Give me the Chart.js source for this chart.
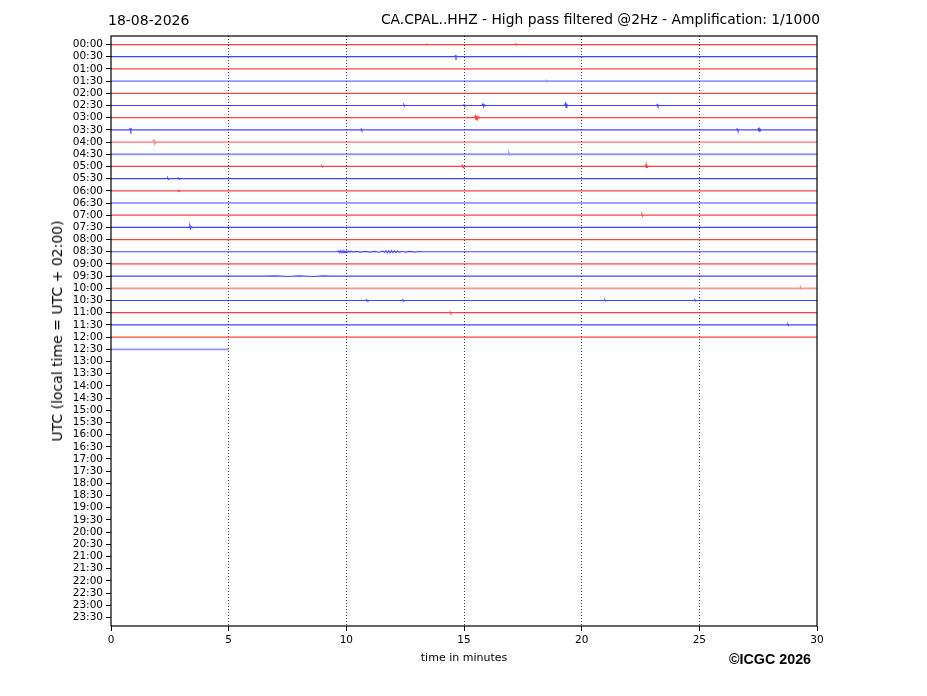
<!DOCTYPE html>
<html>
<head>
<meta charset="utf-8">
<script src="https://cdn.jsdelivr.net/npm/chart.js@4.4.1/dist/chart.umd.min.js"></script>
<style>
  html, body { margin: 0; padding: 0; background: #fff; }
  #wrap { position: relative; width: 927px; height: 696px; font-family: "DejaVu Sans", sans-serif; color: #000; }
  #wrap canvas { position: absolute; left: 0; top: 0; }
  .txt { position: absolute; white-space: nowrap; line-height: 1; }
</style>
</head>
<body>
<div id="wrap">
  <canvas id="heli" width="927" height="696"></canvas>
  <div class="txt" style="left:108px; top:13px; font-size:14px;">18-08-2026</div>
  <div class="txt" style="right:107px; top:13px; font-size:13.85px;">CA.CPAL..HHZ - High pass filtered @2Hz - Amplification: 1/1000</div>
  <div class="txt" style="left:57px; top:331px; font-size:14px; transform: translate(-50%, -50%) rotate(-90deg);">UTC (local time = UTC + 02:00)</div>
  <div class="txt" style="left:464px; top:652px; font-size:11px; transform: translateX(-50%);">time in minutes</div>
  <div class="txt" style="left:729px; top:652px; font-size:14.3px; font-weight:bold; font-family:'Liberation Sans', Arial, sans-serif;">©ICGC 2026</div>
</div>
<script>
// ── Data ─────────────────────────────────────────────────────
const rowLabels = [
  '00:00','00:30','01:00','01:30','02:00','02:30','03:00','03:30',
  '04:00','04:30','05:00','05:30','06:00','06:30','07:00','07:30',
  '08:00','08:30','09:00','09:30','10:00','10:30','11:00','11:30',
  '12:00','12:30','13:00','13:30','14:00','14:30','15:00','15:30',
  '16:00','16:30','17:00','17:30','18:00','18:30','19:00','19:30',
  '20:00','20:30','21:00','21:30','22:00','22:30','23:00','23:30'
];

const xTicks = [0, 5, 10, 15, 20, 25, 30];

// rows that hold a trace, and how far (minutes) the last one runs
const rowsRecorded = 26;
const lastRowEnd = 5.0;

// wiggles: [row, [[minute, offset in rows], ...]]
const rowEvents = [
  [0,  [[13.38, 0], [13.4, 0.04], [13.43, -0.03], [13.45, 0],
        [17.18, 0], [17.2, 0.04], [17.23, -0.03], [17.25, 0]]],
  [1,  [[14.6, 0], [14.63, 0.08], [14.66, -0.07], [14.69, 0.04], [14.72, 0]]],
  [3,  [[18.48, 0], [18.5, 0.04], [18.53, -0.03], [18.55, 0]]],
  [5,  [[12.42, 0], [12.45, 0.06], [12.48, -0.05], [12.5, 0],
        [14.98, 0], [15.0, 0.05], [15.03, -0.04], [15.05, 0],
        [15.76, 0], [15.8, 0.12], [15.83, -0.1], [15.86, 0.06], [15.89, 0],
        [19.28, 0], [19.31, 0.17], [19.34, -0.15], [19.37, 0.08], [19.4, 0],
        [23.18, 0], [23.21, 0.08], [23.24, -0.07], [23.27, 0]]],
  [6,  [[15.45, 0], [15.48, 0.15], [15.51, -0.16], [15.54, 0.16], [15.57, -0.13],
        [15.6, 0.07], [15.63, 0]]],
  [7,  [[0.78, 0], [0.81, 0.1], [0.84, -0.09], [0.87, 0.06], [0.9, 0],
        [10.6, 0], [10.63, 0.06], [10.66, -0.05], [10.69, 0],
        [26.58, 0], [26.61, 0.08], [26.64, -0.07], [26.67, 0],
        [27.48, 0], [27.51, 0.1], [27.54, -0.1], [27.57, 0.08], [27.62, -0.05], [27.66, 0]]],
  [8,  [[1.78, 0], [1.81, 0.1], [1.84, -0.1], [1.87, 0.06], [1.9, 0]]],
  [9,  [[16.88, 0], [16.91, 0.06], [16.94, -0.05], [16.97, 0]]],
  [10, [[8.93, 0], [8.96, 0.05], [8.99, -0.04], [9.02, 0],
        [14.9, 0], [14.93, 0.1], [14.96, -0.1], [14.99, 0],
        [22.68, 0], [22.71, 0.1], [22.74, -0.08], [22.77, 0.1], [22.8, -0.07], [22.83, 0]]],
  [11, [[2.38, 0], [2.41, 0.06], [2.44, -0.05], [2.47, 0],
        [2.83, 0], [2.86, 0.06], [2.89, -0.05], [2.92, 0]]],
  [12, [[2.83, 0], [2.86, 0.05], [2.89, -0.04], [2.92, 0]]],
  [14, [[22.53, 0], [22.56, 0.08], [22.59, -0.07], [22.62, 0]]],
  [15, [[3.32, 0], [3.35, 0.13], [3.38, -0.1], [3.41, 0.05], [3.44, 0]]],
  [17, [[9.6, 0], [9.66, 0.06], [9.7, -0.07], [9.74, 0.08], [9.78, -0.08], [9.82, 0.07],
        [9.86, -0.07], [9.9, 0.06], [9.95, -0.06], [10.0, 0.05], [10.05, -0.05],
        [10.1, 0.05], [10.16, -0.04], [10.22, 0.04], [10.3, -0.03], [10.4, 0.03],
        [10.6, -0.03], [10.8, 0.03], [11.0, -0.03], [11.2, 0.03], [11.4, -0.04],
        [11.55, 0.05], [11.62, -0.06], [11.68, 0.07], [11.74, -0.08], [11.8, 0.08],
        [11.86, -0.08], [11.92, 0.08], [11.98, -0.07], [12.04, 0.07], [12.1, -0.06],
        [12.18, 0.05], [12.26, -0.05], [12.36, 0.04], [12.5, -0.03], [12.7, 0.03],
        [12.9, -0.03], [13.1, 0.02], [13.3, 0]]],
  [19, [[6.5, 0], [7.0, 0.03], [7.5, -0.03], [8.0, 0.03], [8.6, -0.03], [9.0, 0.03], [9.3, 0]]],
  [20, [[29.28, 0], [29.31, 0.06], [29.34, -0.05], [29.37, 0]]],
  [21, [[10.83, 0], [10.86, 0.06], [10.89, -0.05], [10.92, 0],
        [12.36, 0], [12.39, 0.06], [12.42, -0.05], [12.45, 0],
        [20.95, 0], [20.98, 0.05], [21.01, -0.04], [21.04, 0],
        [24.78, 0], [24.81, 0.05], [24.84, -0.04], [24.87, 0]]],
  [22, [[14.38, 0], [14.41, 0.06], [14.44, -0.05], [14.47, 0]]],
  [23, [[28.73, 0], [28.76, 0.06], [28.79, -0.05], [28.82, 0]]]
];

// ── Styles ───────────────────────────────────────────────────
const RED = 'rgba(255, 20, 20, 0.8)';
const BLUE = 'rgba(20, 20, 255, 0.8)';
const faintRows = [3, 8, 9, 20, 25];

function rowData(row) {
  const end = row === rowsRecorded - 1 ? lastRowEnd : 30;
  const pts = [{ x: 0, y: row }];
  const ev = rowEvents.find(e => e[0] === row);
  if (ev) ev[1].forEach(([t, dy]) => pts.push({ x: t, y: row - dy }));
  pts.push({ x: end, y: row });
  return pts;
}

const datasets = [];
for (let r = 0; r < rowsRecorded; r++) {
  const faint = faintRows.includes(r);
  const base = r % 2 === 0 ? '255,20,20' : '20,20,255';
  datasets.push({
    data: rowData(r),
    borderColor: faint ? `rgba(${base},0.45)` : (r % 2 === 0 ? RED : BLUE),
    borderWidth: faint ? 1.8 : 1.2,
    pointRadius: 0,
    tension: 0,
  });
}

const framePlugin = {
  id: 'frame',
  afterDatasetsDraw(chart) {
    const { ctx, chartArea: a } = chart;
    ctx.save();
    ctx.strokeStyle = '#000';
    ctx.lineWidth = 1.2;
    ctx.strokeRect(a.left, a.top, a.right - a.left, a.bottom - a.top);
    ctx.restore();
  }
};

new Chart(document.getElementById('heli'), {
  type: 'line',
  data: { datasets },
  plugins: [framePlugin],
  options: {
    responsive: false,
    devicePixelRatio: 1,
    animation: false,
    layout: { padding: { top: 36, right: 110, bottom: 0, left: 0 } },
    plugins: { legend: { display: false }, tooltip: { enabled: false } },
    scales: {
      x: {
        type: 'linear',
        min: 0,
        max: 30,
        afterBuildTicks: s => { s.ticks = xTicks.map(v => ({ value: v })); },
        afterFit: s => { s.height = 70; },
        ticks: { color: '#000', padding: 3, font: { family: 'DejaVu Sans', size: 10.5 }, maxRotation: 0 },
        grid: {
          color: c => (c.tick && (c.tick.value === 0 || c.tick.value === 30)) ? 'rgba(0,0,0,0)' : 'rgba(0,0,0,0.75)',
          lineWidth: 1,
          tickColor: '#000',
          tickLength: 5,
          tickWidth: 1,
        },
        border: { display: false, dash: [1, 2] },
      },
      y: {
        type: 'linear',
        reverse: true,
        min: -0.7,
        max: 47.7,
        afterBuildTicks: s => { s.ticks = rowLabels.map((_, i) => ({ value: i })); },
        afterFit: s => { s.width = 111; },
        ticks: {
          autoSkip: false,
          color: '#000',
          padding: 3,
          font: { family: 'DejaVu Sans', size: 10.5 },
          callback: v => rowLabels[v] ?? '',
        },
        grid: { drawOnChartArea: false, color: '#000', tickLength: 5, tickWidth: 1 },
        border: { display: false },
      },
    },
  },
});
</script>
</body>
</html>
